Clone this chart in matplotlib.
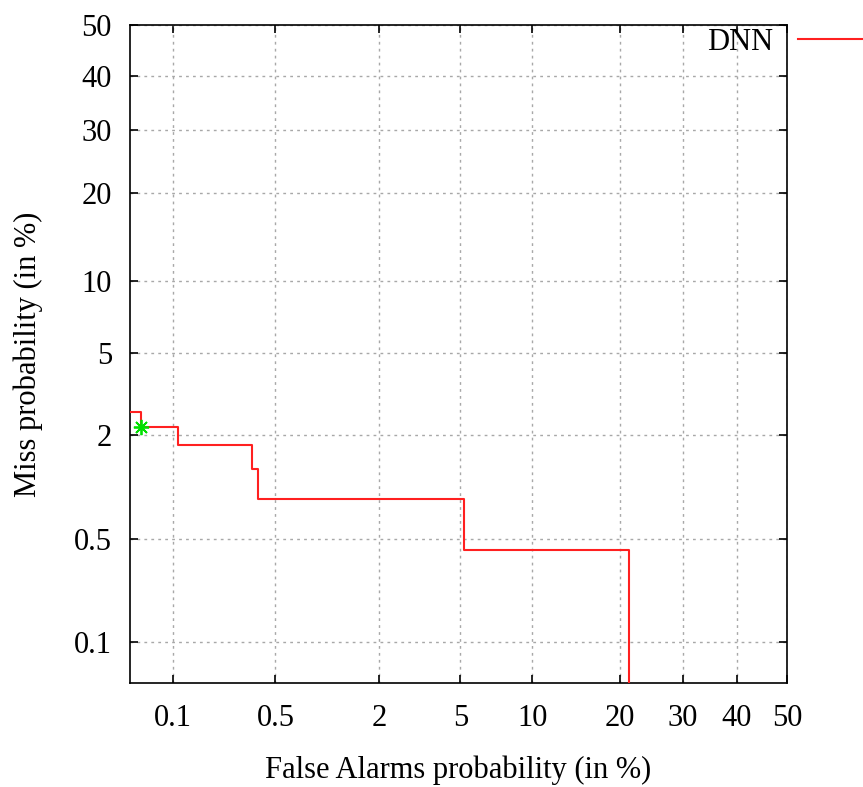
import math
import numpy as np
import matplotlib
matplotlib.use('Agg')
import matplotlib.pyplot as plt

# DET curve corners, in %
fa = [0.040, 0.0575, 0.109, 0.354, 0.388, 5.20, 21.3]
miss = [2.64, 2.21, 1.78, 1.31, 0.882, 0.428, 0.01]
# operating point (green star)
op_fa = [0.0575]
op_miss = [2.21]

ticks = [0.1, 0.5, 2, 5, 10, 20, 30, 40, 50]
tick_labels = ['0.1', '0.5', '2', '5', '10', '20', '30', '40', '50']
fa_range = (0.047, 50)
miss_range = (0.049, 50)


def ppf_one(p):
    # inverse normal cdf, Acklam's approximation
    a = [-3.969683028665376e+01, 2.209460984245205e+02, -2.759285104469687e+02,
         1.383577518672690e+02, -3.066479806614716e+01, 2.506628277459239e+00]
    b = [-5.447609879822406e+01, 1.615858368580409e+02, -1.556989798598866e+02,
         6.680131188771972e+01, -1.328068155288572e+01]
    c = [-7.784894002430293e-03, -3.223964580411365e-01, -2.400758277161838e+00,
         -2.549671010329221e+00, 4.374664141464968e+00, 2.938163982698783e+00]
    d = [7.784695709041462e-03, 3.224671290700398e-01, 2.445134137142996e+00,
         3.754408661907416e+00]
    p = min(max(p, 1e-12), 1 - 1e-12)
    plow = 0.02425
    if p < plow:
        q = math.sqrt(-2 * math.log(p))
        return (((((c[0]*q+c[1])*q+c[2])*q+c[3])*q+c[4])*q+c[5]) / \
               ((((d[0]*q+d[1])*q+d[2])*q+d[3])*q+1)
    if p > 1 - plow:
        q = math.sqrt(-2 * math.log(1 - p))
        return -(((((c[0]*q+c[1])*q+c[2])*q+c[3])*q+c[4])*q+c[5]) / \
               ((((d[0]*q+d[1])*q+d[2])*q+d[3])*q+1)
    q = p - 0.5
    r = q * q
    return (((((a[0]*r+a[1])*r+a[2])*r+a[3])*r+a[4])*r+a[5])*q / \
           (((((b[0]*r+b[1])*r+b[2])*r+b[3])*r+b[4])*r+1)


_ppf = np.vectorize(ppf_one, otypes=[float])
_cdf = np.vectorize(lambda z: 0.5 * math.erfc(-z / math.sqrt(2)), otypes=[float])


def forward(v):
    v = np.asarray(v, dtype=float)
    return _ppf(v / 100.0)


def inverse(z):
    z = np.asarray(z, dtype=float)
    return 100.0 * _cdf(z)


plt.rcParams['font.family'] = ['Liberation Serif', 'DejaVu Serif']
fs = 22

fig = plt.figure(figsize=(8.63, 7.87), dpi=100)
ax = fig.add_axes([130/863, 1 - 683/787, 657/863, 658/787])

ax.set_xscale('function', functions=(forward, inverse))
ax.set_yscale('function', functions=(forward, inverse))
ax.set_xlim(*fa_range)
ax.set_ylim(*miss_range)

ax.plot(fa, miss, drawstyle='steps-post', color='#ff2020', lw=1.5, label='DNN',
        zorder=3)
ax.plot(op_fa, op_miss, ls='none', marker=(8, 2, 0), ms=11, mew=1.3,
        color='#00e000', zorder=4)

ax.set_xticks(ticks)
ax.set_xticklabels(tick_labels)
ax.set_yticks(ticks)
ax.set_yticklabels(tick_labels)
ax.xaxis.set_minor_locator(matplotlib.ticker.NullLocator())
ax.yaxis.set_minor_locator(matplotlib.ticker.NullLocator())
ax.tick_params(direction='in', length=6, width=1.2, top=True, right=True,
               labelsize=fs)
ax.tick_params(axis='x', pad=15)
ax.tick_params(axis='y', pad=13)
ax.grid(True, ls=(0, (2, 3)), color='#a8a8a8', lw=1.0)
for s in ax.spines.values():
    s.set_linewidth(1.2)

ax.set_xlabel('False Alarms probability (in %)', fontsize=fs, labelpad=16)
ax.set_ylabel('Miss probability (in %)', fontsize=fs, labelpad=22)

fig.legend(loc='center right', bbox_to_anchor=(880/863, 1 - 42/787),
           markerfirst=False, frameon=False, fontsize=fs, borderpad=0,
           borderaxespad=0, handlelength=2.7, handletextpad=0.8)

fig.savefig('out.png', dpi=100)
